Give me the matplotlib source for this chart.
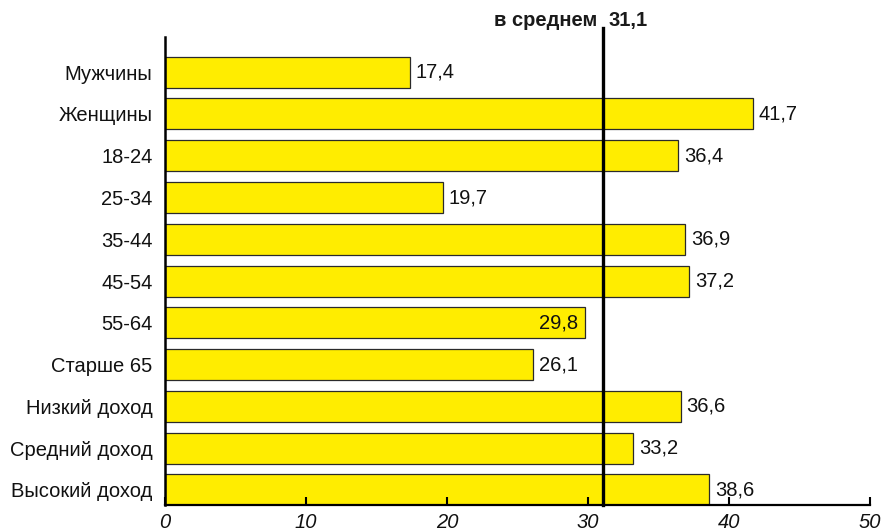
import matplotlib.pyplot as plt

plt.rcParams['font.family'] = ['Liberation Sans', 'DejaVu Sans']

groups = ['Мужчины', 'Женщины', '18-24', '25-34', '35-44', '45-54',
          '55-64', 'Старше 65', 'Низкий доход', 'Средний доход', 'Высокий доход']
values = [17.4, 41.7, 36.4, 19.7, 36.9, 37.2, 29.8, 26.1, 36.6, 33.2, 38.6]
average = 31.1
xticks = [0, 10, 20, 30, 40, 50]

fs = 14.5

fig = plt.figure(figsize=(8.93, 5.32), dpi=100)
ax = fig.add_axes([0.1848, 0.0508, 0.7894, 0.8795])

pos = list(range(len(groups)))
ax.barh(pos, values, height=0.74, color='#FFED00', edgecolor='#2a2a2a', linewidth=0.9)
ax.set_ylim(len(groups) - 1 + 0.36, -0.84)
ax.set_xlim(0, 50)

for y, v in zip(pos, values):
    txt = f'{v:.1f}'.replace('.', ',')
    if v == 29.8:
        ax.text(v - 0.5, y, txt, ha='right', va='center', fontsize=fs, color='#111111')
    else:
        ax.text(v + 0.4, y, txt, ha='left', va='center', fontsize=fs, color='#111111')

# average line, sticking out above the axes
ax.axvline(average, ymin=0, ymax=1.02, color='black', linewidth=2.4, clip_on=False)
ax.text(average - 0.45, 1.035, 'в среднем', transform=ax.get_xaxis_transform(),
        ha='right', va='center', fontsize=fs, fontweight='bold', color='#1a1a1a')
ax.text(average + 0.35, 1.035, str(average).replace('.', ','),
        transform=ax.get_xaxis_transform(),
        ha='left', va='center', fontsize=fs, fontweight='bold', color='#1a1a1a')

ax.set_yticks(pos)
ax.set_yticklabels(groups, fontsize=fs, color='#111111')
ax.tick_params(axis='y', length=0, pad=9)

ax.set_xticks(xticks)
ax.set_xticklabels([str(t) for t in xticks], fontsize=fs, style='italic', color='#111111')
ax.tick_params(axis='x', direction='in', length=6, width=1.5, pad=6)

for s in ['top', 'right']:
    ax.spines[s].set_visible(False)
ax.spines['left'].set_linewidth(1.8)
ax.spines['bottom'].set_linewidth(1.6)

fig.savefig('out.png', dpi=100)
